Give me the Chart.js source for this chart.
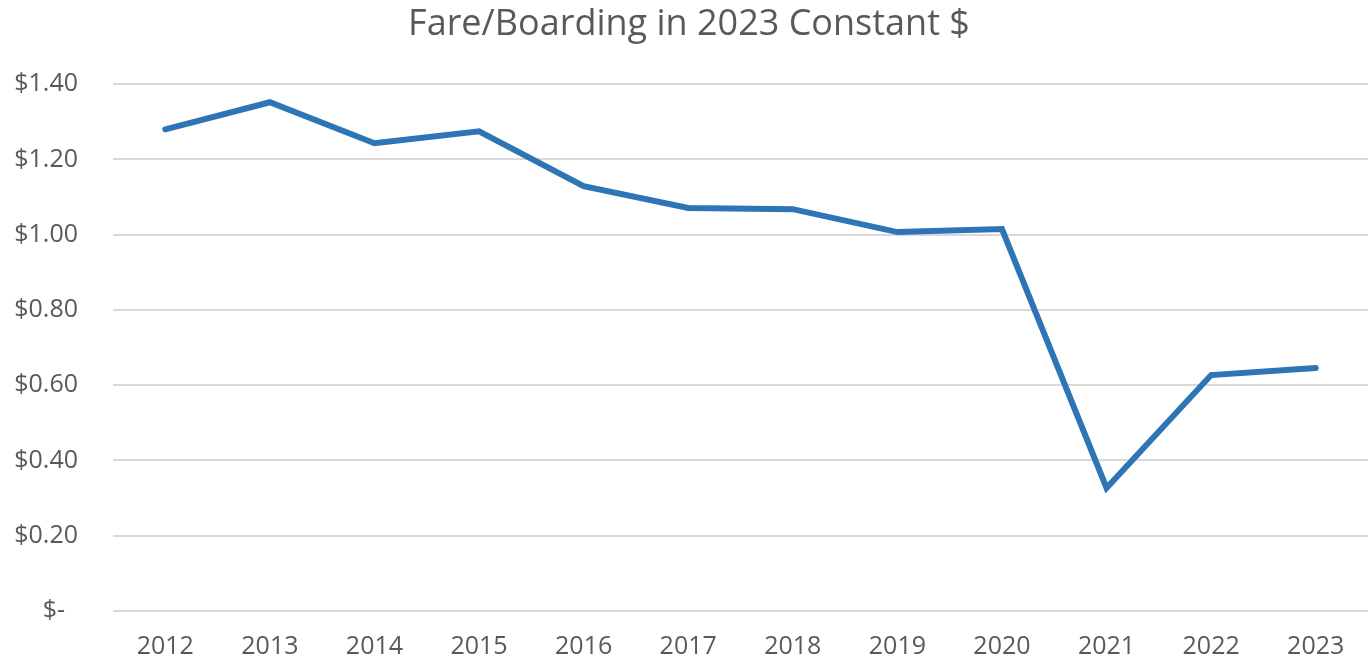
<!DOCTYPE html>
<html>
<head>
<meta charset="utf-8">
<script src="https://cdn.jsdelivr.net/npm/chart.js@4.4.0/dist/chart.umd.min.js"></script>
<style>
html,body{margin:0;padding:0;background:#fff;}
#wrap{width:1370px;height:661px;}
</style>
</head>
<body>
<div id="wrap"><canvas id="c" width="1370" height="661"></canvas></div>
<script>
const years = ["2012","2013","2014","2015","2016","2017","2018","2019","2020","2021","2022","2023"];
const farePerBoarding = [1.28, 1.352, 1.243, 1.275, 1.129, 1.071, 1.068, 1.007, 1.015, 0.327, 0.627, 0.646];
const yTickValues = [0, 0.2, 0.4, 0.6, 0.8, 1.0, 1.2, 1.4];
const chartTitle = "Fare/Boarding in 2023 Constant $";

const txt = "#595959";
const fontFam = "'Open Sans', 'Noto Sans', sans-serif";

new Chart(document.getElementById('c'), {
  type: 'line',
  data: {
    labels: years,
    datasets: [{
      data: farePerBoarding,
      borderColor: '#2e75b6',
      borderWidth: 6,
      pointRadius: 0,
      pointHoverRadius: 0,
      tension: 0,
      fill: false,
      borderJoinStyle: 'miter',
      borderCapStyle: 'round'
    }]
  },
  options: {
    responsive: false,
    animation: false,
    devicePixelRatio: 1,
    layout: { padding: { left: 10, right: 2, top: 3, bottom: 2 } },
    plugins: {
      legend: { display: false },
      tooltip: { enabled: false },
      title: {
        display: true,
        text: chartTitle,
        color: txt,
        font: { family: fontFam, size: 36, weight: 'normal' },
        padding: { top: 0, bottom: 38 }
      }
    },
    scales: {
      x: {
        offset: true,
        grid: { display: false, drawTicks: false },
        border: { display: false },
        ticks: { color: txt, font: { family: fontFam, size: 25 }, padding: 21, maxRotation: 0 },
        afterFit: (axis) => { axis.height = 48; }
      },
      y: {
        min: 0,
        max: 1.4,
        afterBuildTicks: (axis) => { axis.ticks = yTickValues.map(v => ({ value: v })); },
        grid: { color: '#d9d9d9', lineWidth: 2, drawTicks: false },
        border: { display: false },
        ticks: {
          color: txt,
          font: { family: fontFam, size: 25 },
          padding: 35,
          callback: (v) => v === 0 ? '$-  ' : '$' + Number(v).toFixed(2)
        },
        afterFit: (axis) => { axis.width = 103; }
      }
    }
  }
});
</script>
</body>
</html>
